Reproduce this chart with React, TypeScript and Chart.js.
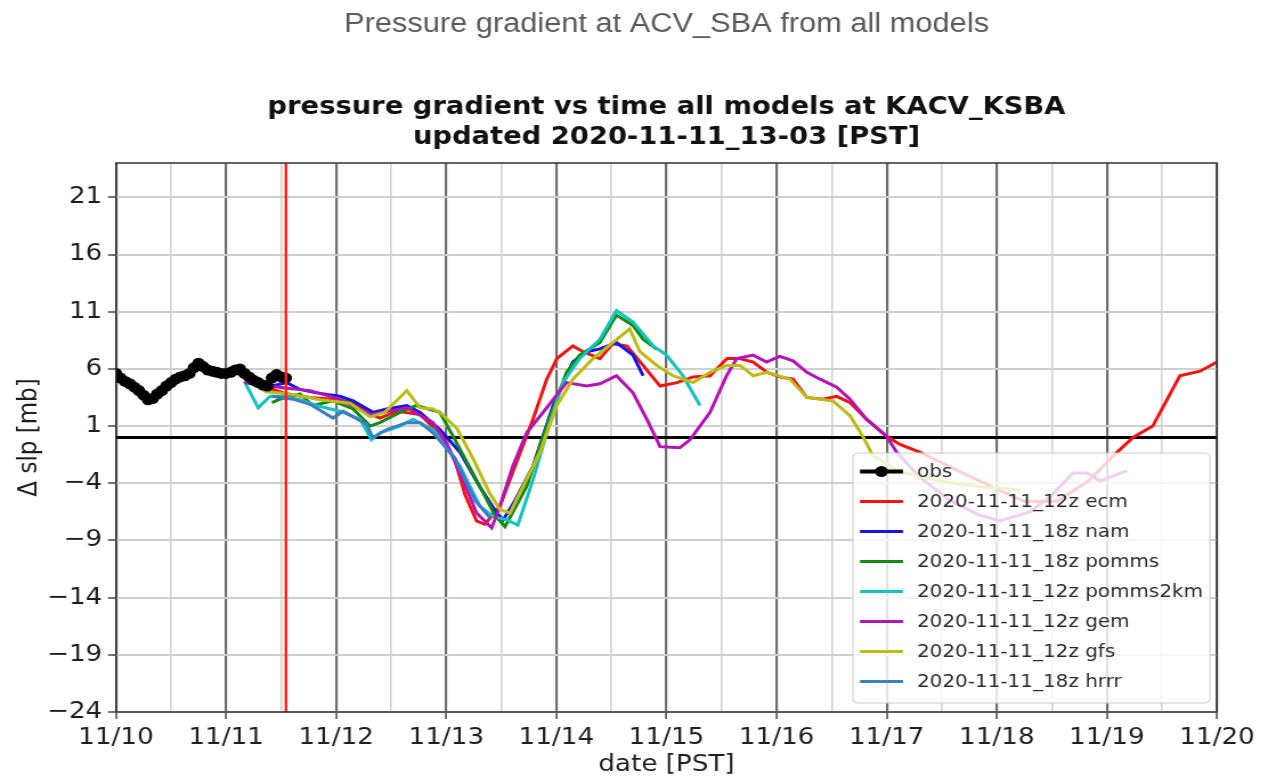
import React, { useEffect, useRef } from 'react';
import { Chart, registerables } from 'chart.js';

Chart.register(...registerables);

// ---------- data ----------
const dayLabels = ['11/10', '11/11', '11/12', '11/13', '11/14', '11/15', '11/16', '11/17', '11/18', '11/19', '11/20'];
const xTickHours = [0, 12, 24, 36, 48, 60, 72, 84, 96, 108, 120, 132, 144, 156, 168, 180, 192, 204, 216, 228, 240];
const yTickValues = [-24, -19, -14, -9, -4, 1, 6, 11, 16, 21];
const updateHour = 37.05; // 2020-11-11 13:03 PST

const obsHours = [0, 1, 2, 3, 4, 5, 6, 7, 8, 9, 10, 11, 12, 13, 14, 15, 16, 17, 18, 19, 20, 21, 22, 23, 24, 25, 26, 27, 28, 29, 30, 31, 32, 33, 34, 35, 36, 37];
const obsValues = [5.6, 5.2, 4.9, 4.7, 4.4, 4.1, 3.7, 3.3, 3.4, 3.8, 4.1, 4.5, 4.8, 5.1, 5.3, 5.4, 5.6, 6.1, 6.5, 6.2, 5.9, 5.8, 5.7, 5.6, 5.6, 5.7, 5.9, 6.0, 5.6, 5.3, 5.0, 4.8, 4.6, 4.5, 5.2, 5.5, 5.3, 5.2];

const ecmHours = [28, 32.8, 37.2, 42.3, 47.3, 51.7, 54.6, 57.5, 61.2, 66.3, 70.6, 73.9, 76.1, 78.6, 80.4, 83.7, 87.0, 90.9, 93.9, 96.1, 99.6, 101.8, 105.5, 108.3, 111.4, 114.9, 118.6, 122.3, 125.8, 129.5, 133.2, 136.0, 138.9, 141.9, 144.7, 147.6, 150.6, 154.1, 157.1, 160, 163.6, 168, 170.9, 175.3, 184, 192, 198, 205, 212, 218.2, 221.7, 226, 231.9, 236.3, 240];
const ecmValues = [5.5, 4.4, 3.8, 3.5, 3.35, 3.05, 2.2, 1.7, 2.3, 2.0, 0.3, -2.0, -5.0, -7.3, -7.6, -6.0, -2.5, 1.6, 5.1, 6.9, 8.0, 7.5, 6.9, 8.2, 8.0, 6.3, 4.5, 4.8, 5.3, 5.4, 6.9, 6.9, 6.6, 5.7, 5.3, 5.1, 3.5, 3.35, 3.6, 3.05, 1.6, 0.1, -0.6, -1.3, -3.0, -4.5, -5.6, -5.6, -3.8, -1.3, 0.0, 1.0, 5.4, 5.8, 6.6];

const namHours = [34, 37.2, 40.1, 43.7, 48.8, 51.7, 56, 59, 63.4, 66.3, 70.6, 75, 79.3, 83, 84.4, 87, 90.9, 95.3, 99.6, 102.6, 105.5, 109.1, 112.7, 114.9];
const namValues = [4.5, 4.8, 4.2, 3.9, 3.6, 3.2, 2.2, 2.5, 2.8, 2.2, 0.7, -1.3, -4.3, -6.6, -7.2, -5.5, -2.5, 2.8, 6.6, 7.5, 7.75, 8.3, 7.2, 5.4];

const pommsHours = [34, 35.7, 40.1, 42.9, 47.3, 51.7, 55.4, 57.5, 61.9, 65.5, 70.6, 73.5, 78.3, 82.6, 84.8, 89.5, 93.9, 98.2, 101.1, 105.5, 109.1, 112.7, 114.9, 117.9];
const pommsValues = [3.05, 3.35, 3.8, 2.8, 3.2, 2.5, 1.0, 1.3, 2.2, 2.8, 2.2, 0.1, -3.5, -6.8, -7.8, -4.3, 1.0, 5.7, 7.2, 8.3, 10.7, 9.8, 8.6, 7.7];

const pomms2kmHours = [28, 31, 33.6, 36.4, 40.1, 43.7, 48.8, 53.2, 55.7, 57.5, 61.9, 64.7, 69.1, 75, 79.3, 82.2, 85.2, 87.6, 90.9, 93.9, 97.4, 101.1, 105.5, 109.1, 112.7, 117.1, 120, 123.6, 127.3];
const pomms2kmValues = [4.9, 2.6, 3.6, 3.6, 3.3, 2.8, 2.3, 1.6, -0.2, 0.4, 1.0, 1.6, 0.7, -2.5, -6.0, -6.9, -7.2, -7.65, -3.7, 0.4, 4.8, 6.9, 8.6, 11.1, 10.1, 8.0, 7.2, 5.4, 2.8];

const gemHours = [28, 37.2, 42.3, 48.8, 55.4, 63.4, 69.1, 72.1, 75, 78.6, 81.9, 83.7, 86.5, 89.5, 93.1, 98.2, 102.6, 105.5, 109.1, 112.7, 115.7, 118.6, 122.9, 125.1, 129.5, 133.1, 135.3, 138.9, 141.8, 144.7, 147.6, 150.6, 153.5, 157.1, 160, 163.6, 168, 170.2, 175.3, 181.8, 188.3, 192.7, 199.2, 203.6, 208.6, 211.7, 214.5, 220.4];
const gemValues = [4.8, 4.3, 4.1, 3.35, 2.0, 2.6, 1.3, -0.5, -3.1, -6.6, -7.9, -6.0, -2.5, 0.4, 2.2, 4.8, 4.5, 4.7, 5.4, 3.9, 1.6, -0.8, -0.9, -0.2, 2.2, 5.4, 6.9, 7.2, 6.6, 7.1, 6.7, 5.7, 5.1, 4.4, 3.35, 1.6, 0.1, -1.3, -3.5, -5.5, -6.8, -7.3, -6.5, -5.2, -3.1, -3.1, -3.8, -2.9];

const gfsHours = [28, 32.7, 37.9, 44.5, 51, 55.4, 58.6, 63.4, 66.3, 69.1, 70.6, 74.3, 77.9, 81.5, 83.7, 85.9, 88.7, 92.4, 96.1, 99.6, 104, 108.3, 112, 114.2, 117.9, 121.4, 125.8, 129.5, 133.1, 136, 138.9, 141.9, 146.9, 150.6, 156.3, 160, 162.8, 165, 170.9, 179.6, 188.3, 197];
const gfsValues = [5.2, 4.0, 3.8, 3.3, 3.0, 1.8, 2.2, 4.1, 2.6, 2.5, 2.2, 0.8, -1.9, -4.9, -6.3, -6.6, -4.3, -1.3, 2.8, 5.1, 6.9, 8.3, 9.5, 7.5, 6.3, 5.4, 4.8, 5.7, 6.3, 6.3, 5.4, 5.7, 5.1, 3.5, 3.2, 1.9, 0.1, -1.6, -3.0, -3.8, -4.3, -4.6];

const hrrrHours = [34, 38.6, 42.3, 47.3, 49.5, 54.6, 56, 59, 63.4, 66.3, 69.1, 73.9, 78.3, 81.5];
const hrrrValues = [3.6, 3.35, 2.9, 1.7, 2.3, 1.15, 0.0, 0.7, 1.3, 1.3, 0.4, -1.8, -5.5, -7.0];

const seriesLabels = ['obs', '2020-11-11_12z ecm', '2020-11-11_18z nam', '2020-11-11_18z pomms', '2020-11-11_12z pomms2km', '2020-11-11_12z gem', '2020-11-11_12z gfs', '2020-11-11_18z hrrr'];

// ---------- styles / layout ----------
const OUT_W = 1268;
const OUT_H = 778;
const W = 1112; // internal canvas width, CSS-stretched to OUT_W
const S = OUT_W / W;
const plotLeft = 116 / S;
const plotRight = 1217 / S;

const modelColors = ['#f01414', '#1414e6', '#138a13', '#14c2c2', '#b414b4', '#bcbc14', '#3a7fc0'];

const toPts = (hs: number[], vs: number[]) => hs.map((h, i) => ({ x: h, y: vs[i] }));

const framePlugin = {
  id: 'frame',
  afterDatasetsDraw(chart: any) {
    const { ctx, chartArea: a } = chart;
    ctx.save();
    ctx.strokeStyle = '#333';
    ctx.lineWidth = 1.5;
    ctx.strokeRect(a.left, a.top, a.right - a.left, a.bottom - a.top);
    ctx.restore();
  },
};

const legendPlugin = {
  id: 'mplLegend',
  afterDraw(chart: any) {
    const ctx = chart.ctx;
    const x0 = 853 / S, x1 = 1210 / S, y0 = 453, y1 = 703;
    ctx.save();
    ctx.beginPath();
    const r = 4;
    ctx.moveTo(x0 + r, y0);
    ctx.arcTo(x1, y0, x1, y1, r);
    ctx.arcTo(x1, y1, x0, y1, r);
    ctx.arcTo(x0, y1, x0, y0, r);
    ctx.arcTo(x0, y0, x1, y0, r);
    ctx.closePath();
    ctx.fillStyle = 'rgba(255,255,255,0.8)';
    ctx.fill();
    ctx.strokeStyle = '#cccccc';
    ctx.lineWidth = 1;
    ctx.stroke();

    const sx0 = 860 / S, sx1 = 903 / S, tx = 917 / S;
    ctx.font = '17.5px "DejaVu Sans"';
    ctx.textBaseline = 'middle';
    ctx.textAlign = 'left';
    seriesLabels.forEach((lab, i) => {
      const y = 471.5 + i * 30;
      const col = i === 0 ? '#000' : modelColors[i - 1];
      ctx.strokeStyle = col;
      ctx.lineWidth = i === 0 ? 4 : 3.2;
      ctx.beginPath();
      ctx.moveTo(sx0, y);
      ctx.lineTo(sx1, y);
      ctx.stroke();
      if (i === 0) {
        ctx.fillStyle = '#000';
        ctx.beginPath();
        ctx.arc((sx0 + sx1) / 2, y, 5.5, 0, Math.PI * 2);
        ctx.fill();
      }
      ctx.fillStyle = '#2a2a2a';
      ctx.fillText(lab, tx, y + 1);
    });
    ctx.restore();
  },
};

export default function App() {
  const ref = useRef<HTMLCanvasElement | null>(null);

  useEffect(() => {
    if (!ref.current) return;
    const modelSeries = [
      [ecmHours, ecmValues],
      [namHours, namValues],
      [pommsHours, pommsValues],
      [pomms2kmHours, pomms2kmValues],
      [gemHours, gemValues],
      [gfsHours, gfsValues],
      [hrrrHours, hrrrValues],
    ];
    const datasets: any[] = [];
    datasets.push({
      label: 'zero',
      data: [{ x: 0, y: 0 }, { x: 240, y: 0 }],
      borderColor: '#000',
      borderWidth: 3,
      pointRadius: 0,
      order: 20,
    });
    modelSeries.forEach((s, i) => {
      datasets.push({
        label: seriesLabels[i + 1],
        data: toPts(s[0] as number[], s[1] as number[]),
        borderColor: modelColors[i],
        borderWidth: 3,
        pointRadius: 0,
        tension: 0,
        order: 10 - i,
      });
    });
    datasets.push({
      label: seriesLabels[0],
      data: toPts(obsHours, obsValues),
      borderColor: '#000',
      backgroundColor: '#000',
      borderWidth: 5.5,
      pointRadius: 5.5,
      pointBorderWidth: 0,
      pointBackgroundColor: '#000',
      order: 1,
    });
    datasets.push({
      label: 'update',
      data: [{ x: updateHour, y: -24 }, { x: updateHour, y: 24 }],
      borderColor: '#ff2020',
      borderWidth: 2.4,
      pointRadius: 0,
      order: 0,
    });

    const isMajor = (c: any) => c && c.tick && c.tick.value % 24 === 0;

    const chart = new Chart(ref.current, {
      type: 'line',
      data: { datasets },
      plugins: [framePlugin, legendPlugin],
      options: {
        responsive: false,
        animation: false,
        devicePixelRatio: 1,
        layout: { padding: { left: 0, right: W - plotRight, top: 0, bottom: 0 } },
        plugins: {
          legend: { display: false },
          tooltip: { enabled: false },
          title: {
            display: true,
            fullSize: false,
            text: 'Pressure gradient at ACV_SBA from all models',
            color: '#5a5a5a',
            font: { family: '"Liberation Sans", Arial, sans-serif', size: 27, weight: 'normal', lineHeight: 1.2 },
            padding: { top: 8.8, bottom: 0 },
          },
          subtitle: {
            display: true,
            fullSize: false,
            text: ['pressure gradient vs time all models at KACV_KSBA', 'updated 2020-11-11_13-03 [PST]'],
            color: '#111',
            font: { family: '"DejaVu Sans", sans-serif', size: 24, weight: 'bold', lineHeight: 1.25 },
            padding: { top: 51.8, bottom: 10 },
          },
        } as any,
        scales: {
          x: {
            type: 'linear',
            min: 0,
            max: 240,
            afterBuildTicks: (s: any) => {
              s.ticks = xTickHours.map((v) => ({ value: v }));
            },
            afterFit: (s: any) => {
              s.height = 66;
            },
            ticks: {
              autoSkip: false,
              maxRotation: 0,
              padding: 5,
              color: '#1e1e1e',
              font: { family: '"DejaVu Sans", sans-serif', size: 23 },
              callback: (v: any) => (Number(v) % 24 === 0 ? dayLabels[Number(v) / 24] : ''),
            },
            grid: {
              color: (c: any) => (isMajor(c) ? '#6e6e6e' : '#d2d2d2'),
              lineWidth: (c: any) => (isMajor(c) ? 2.2 : 1.6),
              tickColor: (c: any) => (isMajor(c) ? '#444' : 'rgba(0,0,0,0)'),
              tickLength: 7,
              tickWidth: 1.5,
            },
            border: { display: false },
            title: {
              display: true,
              text: 'date [PST]',
              color: '#1e1e1e',
              font: { family: '"DejaVu Sans", sans-serif', size: 23, lineHeight: 1.1 },
              padding: { top: 0, bottom: 0 },
            },
          },
          y: {
            type: 'linear',
            min: -24,
            max: 24,
            afterBuildTicks: (s: any) => {
              s.ticks = yTickValues.map((v) => ({ value: v }));
            },
            afterFit: (s: any) => {
              s.width = plotLeft;
            },
            ticks: {
              padding: 5,
              color: '#1e1e1e',
              font: { family: '"DejaVu Sans", sans-serif', size: 23 },
              callback: (v: any) => (Number(v) < 0 ? '\u2212' + Math.abs(Number(v)) : String(v)),
            },
            grid: {
              color: '#cfcfcf',
              lineWidth: 2,
              tickColor: '#444',
              tickLength: 7,
              tickWidth: 1.5,
            },
            border: { display: false },
            title: {
              display: true,
              text: '\u0394 slp [mb]',
              color: '#1e1e1e',
              font: { family: '"DejaVu Sans", sans-serif', size: 23, lineHeight: 1.2 },
              padding: { top: 12.5, bottom: 0 },
            },
          },
        },
      } as any,
    });
    return () => chart.destroy();
  }, []);

  return (
    <canvas
      ref={ref}
      width={W}
      height={OUT_H}
      style={{ position: 'fixed', left: 0, top: 0, width: OUT_W + 'px', height: OUT_H + 'px', display: 'block', background: '#fff' }}
    />
  );
}
